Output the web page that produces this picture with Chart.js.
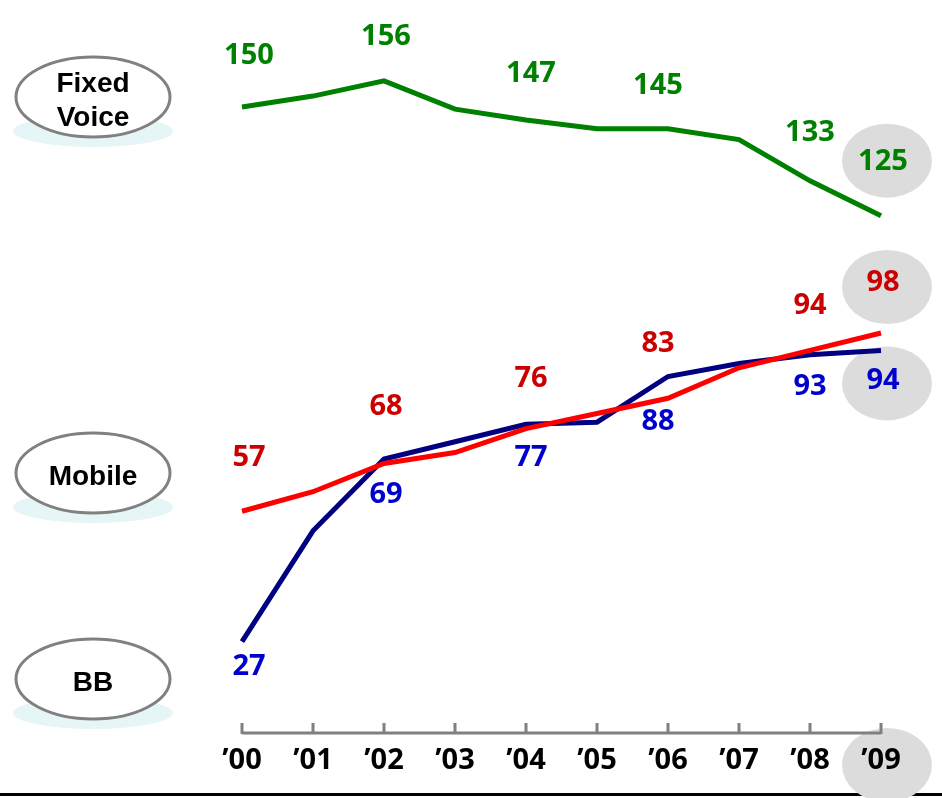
<!DOCTYPE html>
<html lang="en">
<head>
    <meta charset="UTF-8">
    <title>Fixed Voice / Mobile / BB</title>
    <script src="https://cdn.jsdelivr.net/npm/chart.js"></script>
    <style>
        html, body { margin: 0; padding: 0; background: #fff; }
        #wrap { width: 942px; height: 798px; }
    </style>
</head>
<body>
<div id="wrap"><canvas id="myChart" width="942" height="798"></canvas></div>
<script>
// years on the x axis
const years = ['\u201900', '\u201901', '\u201902', '\u201903', '\u201904', '\u201905', '\u201906', '\u201907', '\u201908', '\u201909'];

// subscribers per series
const fixedVoice = [150, 152.5, 156, 149.5, 147, 145, 145, 142.5, 133, 125];
const mobile = [57, 61.5, 68, 70.5, 76, 79.5, 83, 90, 94, 98];
const broadband = [27, 52.5, 69, 73, 77, 77.5, 88, 91, 93, 94];

// which points get a value written next to them
const labelIdx = [0, 2, 4, 6, 8, 9];

const seriesNames = ['Fixed\nVoice', 'Mobile', 'BB'];

// value label placement (pixels from the point), one entry per labelIdx
const labelDx = [7, 2, 5, -10, 0, 2];
const labelDy = {
    fixed: [-51, -44, -46, -43, -48, -54],
    mobile: [-54, -57, -50, -55, -45, -50],
    bb: [25, 36, 33, 45, 32, 30]
};

const numFont = 'bold 29px "Noto Sans", "Open Sans", sans-serif';

// grey discs, outlined badges, axis and base line
const decor = {
    id: 'decor',
    beforeDraw(chart) {
        const ctx = chart.ctx;
        const x = chart.scales.x, y = chart.scales.y;
        const last = years.length - 1;
        const xl = x.getPixelForValue(last) + 6;

        ctx.save();
        // bottom rule
        ctx.fillStyle = '#000';
        ctx.fillRect(0, 793, 942, 3);

        // grey discs behind the last-year values
        ctx.fillStyle = '#dcdcdc';
        const discs = [
            [xl, y.getPixelForValue(fixedVoice[last]) - 55],
            [xl, y.getPixelForValue(mobile[last]) - 46],
            [xl, y.getPixelForValue(broadband[last]) + 33],
            [xl, x.bottom - 8]
        ];
        discs.forEach(([cx, cy]) => {
            ctx.beginPath();
            ctx.ellipse(cx, cy, 45, 37, 0, 0, Math.PI * 2);
            ctx.fill();
        });

        // series badges on the left
        const centers = [97, 473, 679];
        seriesNames.forEach((name, i) => {
            const cy = centers[i];
            ctx.fillStyle = '#e6f5f5';
            ctx.beginPath();
            ctx.ellipse(93, cy + 34, 80, 16, 0, 0, Math.PI * 2);
            ctx.fill();
            ctx.fillStyle = '#fff';
            ctx.strokeStyle = '#808080';
            ctx.lineWidth = 3;
            ctx.beginPath();
            ctx.ellipse(93, cy, 77, 40, 0, 0, Math.PI * 2);
            ctx.fill();
            ctx.stroke();

            ctx.fillStyle = '#000';
            ctx.font = 'bold 28px "Liberation Sans", Arial, sans-serif';
            ctx.textAlign = 'center';
            ctx.textBaseline = 'middle';
            const lines = name.split('\n');
            lines.forEach((t, k) => {
                ctx.fillText(t, 93, cy + (k - (lines.length - 1) / 2) * 34 + 4);
            });
        });

        // x axis line with upward ticks
        ctx.strokeStyle = '#808080';
        ctx.lineWidth = 3;
        ctx.beginPath();
        ctx.moveTo(x.left, y.bottom);
        ctx.lineTo(x.right, y.bottom);
        years.forEach((_, i) => {
            const px = x.getPixelForValue(i);
            ctx.moveTo(px, y.bottom + 1);
            ctx.lineTo(px, y.bottom - 10);
        });
        ctx.stroke();
        ctx.restore();
    },
    afterDatasetsDraw(chart) {
        const ctx = chart.ctx;
        const x = chart.scales.x, y = chart.scales.y;
        const sets = [
            { data: fixedVoice, color: '#008000', dy: labelDy.fixed },
            { data: mobile, color: '#cc0000', dy: labelDy.mobile },
            { data: broadband, color: '#0000cc', dy: labelDy.bb }
        ];
        ctx.save();
        ctx.font = numFont;
        ctx.textAlign = 'center';
        ctx.textBaseline = 'middle';
        sets.forEach(s => {
            ctx.fillStyle = s.color;
            labelIdx.forEach((i, k) => {
                const px = x.getPixelForValue(i) + labelDx[k];
                const py = y.getPixelForValue(s.data[i]) + s.dy[k];
                ctx.fillText(String(s.data[i]), px, py);
            });
        });
        ctx.restore();
    }
};

const ctx = document.getElementById('myChart').getContext('2d');
new Chart(ctx, {
    type: 'line',
    data: {
        labels: years,
        datasets: [
            { label: 'Fixed Voice', data: fixedVoice, borderColor: '#008000', borderWidth: 5 },
            { label: 'Mobile', data: mobile, borderColor: '#ff0000', borderWidth: 5 },
            { label: 'BB', data: broadband, borderColor: '#000080', borderWidth: 5 }
        ]
    },
    options: {
        responsive: false,
        animation: false,
        layout: { padding: { left: 242, right: 61, top: 20, bottom: 25 } },
        elements: {
            point: { radius: 0, hoverRadius: 0 },
            line: { tension: 0, borderCapStyle: 'butt', borderJoinStyle: 'miter' }
        },
        plugins: {
            legend: { display: false },
            tooltip: { enabled: false }
        },
        scales: {
            x: {
                offset: false,
                grid: { display: false, drawTicks: false },
                border: { display: false },
                ticks: {
                    color: '#000',
                    font: { family: '"Noto Sans", "Open Sans", sans-serif', size: 29, weight: 'bold' },
                    padding: 10,
                    maxRotation: 0,
                    autoSkip: false
                },
                afterFit(scale) { scale.height = 40; }
            },
            y: {
                display: false,
                min: 6,
                max: 170
            }
        }
    },
    plugins: [decor]
});
</script>
</body>
</html>
